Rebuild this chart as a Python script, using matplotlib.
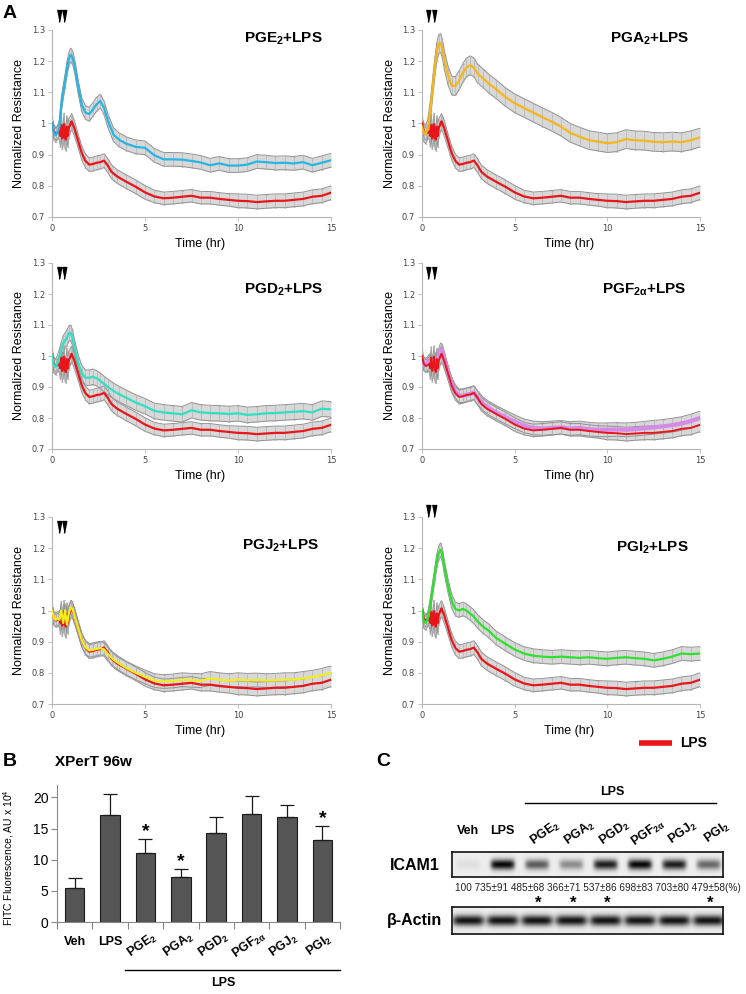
import numpy as np
import matplotlib
matplotlib.use('Agg')
import matplotlib.pyplot as plt
from matplotlib.ticker import FuncFormatter
from matplotlib.transforms import blended_transform_factory

plt.rcParams['font.family'] = ['Liberation Sans', 'DejaVu Sans']
plt.rcParams['mathtext.fontset'] = 'custom'
plt.rcParams['mathtext.rm'] = 'Liberation Sans'
plt.rcParams['mathtext.bf'] = 'Liberation Sans:bold'
plt.rcParams['mathtext.it'] = 'Liberation Sans:italic'

# ---------------- data: panel A (normalized resistance) ----------------
lps_t = [0, 0.1, 0.2, 0.3, 0.4, 0.45, 0.5, 0.55, 0.6, 0.65, 0.7, 0.75, 0.8, 0.85, 0.9,
         1.0, 1.05, 1.1, 1.2, 1.4, 1.6, 1.8, 2.0, 2.2, 2.4, 2.6, 2.8, 3.0, 3.2, 3.5,
         4.0, 4.5, 5.0, 5.5, 6.0, 6.5, 7.0, 7.5, 8.0, 8.5, 9.0, 9.5, 10.0, 10.5, 11.0,
         11.5, 12.0, 12.5, 13.0, 13.5, 14.0, 14.5, 15.0]
lps_v = [1.0, 0.975, 0.968, 0.97, 0.975, 0.96, 0.995, 0.952, 0.965, 0.998, 0.955, 0.948, 0.99, 0.96, 0.985,
         1.0, 1.007, 1.0, 0.985, 0.945, 0.905, 0.88, 0.868, 0.87, 0.874, 0.876, 0.881, 0.865, 0.845, 0.83,
         0.813, 0.797, 0.779, 0.766, 0.76, 0.762, 0.765, 0.768, 0.762, 0.762, 0.758, 0.755, 0.752, 0.751, 0.748,
         0.75, 0.752, 0.752, 0.755, 0.758, 0.765, 0.768, 0.778]
lps_e = [0.02, 0.02, 0.02, 0.02, 0.025, 0.035, 0.035, 0.035, 0.035, 0.035, 0.035, 0.035, 0.035, 0.035, 0.03,
         0.025, 0.025, 0.025, 0.025, 0.022, 0.022, 0.022, 0.022, 0.022, 0.022, 0.022, 0.022, 0.022, 0.022, 0.022,
         0.022, 0.022, 0.022, 0.02, 0.02, 0.02, 0.02, 0.02, 0.02, 0.02, 0.02, 0.02, 0.022, 0.022, 0.022,
         0.022, 0.022, 0.022, 0.022, 0.022, 0.022, 0.022, 0.022]

trt_t = [0, 0.1, 0.2, 0.3, 0.4, 0.5, 0.6, 0.7, 0.8, 0.9, 1.0, 1.1, 1.2, 1.4, 1.6, 1.8, 2.0, 2.2,
         2.4, 2.6, 2.8, 3.0, 3.3, 3.6, 4.0, 4.5, 5.0, 5.5, 6.0, 6.5, 7.0, 7.5, 8.0, 8.5, 9.0, 9.5,
         10.0, 10.5, 11.0, 11.5, 12.0, 12.5, 13.0, 13.5, 14.0, 14.5, 15.0]
pge2 = [1.0, 0.97, 0.962, 0.972, 0.99, 1.06, 1.1, 1.135, 1.175, 1.205, 1.22, 1.212, 1.19, 1.12, 1.06, 1.035, 1.03, 1.045,
        1.062, 1.072, 1.05, 1.01, 0.965, 0.948, 0.935, 0.925, 0.922, 0.898, 0.885, 0.885, 0.884, 0.88, 0.875, 0.866, 0.872, 0.865,
        0.865, 0.868, 0.878, 0.876, 0.873, 0.874, 0.872, 0.876, 0.866, 0.874, 0.882]
pga2 = [0.99, 0.972, 0.965, 0.98, 1.02, 1.07, 1.13, 1.185, 1.23, 1.255, 1.258, 1.24, 1.205, 1.155, 1.122, 1.12, 1.138, 1.162,
        1.18, 1.187, 1.18, 1.16, 1.145, 1.128, 1.11, 1.085, 1.065, 1.05, 1.035, 1.02, 1.006, 0.99, 0.97, 0.958, 0.947, 0.942,
        0.937, 0.94, 0.95, 0.946, 0.945, 0.941, 0.94, 0.942, 0.94, 0.946, 0.955]
pgd2 = [1.0, 0.97, 0.965, 0.978, 0.998, 1.02, 1.04, 1.05, 1.058, 1.072, 1.075, 1.06, 1.03, 0.98, 0.945, 0.93, 0.93, 0.933,
        0.928, 0.92, 0.91, 0.9, 0.888, 0.877, 0.865, 0.85, 0.838, 0.823, 0.818, 0.815, 0.812, 0.825, 0.818, 0.816, 0.815, 0.813,
        0.815, 0.81, 0.812, 0.815, 0.816, 0.818, 0.82, 0.822, 0.818, 0.83, 0.828]
pgf2a = [0.99, 0.975, 0.97, 0.975, 0.985, 0.98, 0.97, 0.99, 0.975, 1.0, 1.02, 1.015, 0.99, 0.95, 0.91, 0.885, 0.872, 0.872,
         0.875, 0.878, 0.882, 0.865, 0.845, 0.832, 0.818, 0.803, 0.788, 0.775, 0.768, 0.766, 0.768, 0.77, 0.766, 0.768, 0.764, 0.762,
         0.762, 0.763, 0.762, 0.764, 0.767, 0.77, 0.773, 0.777, 0.782, 0.79, 0.8]
pgj2 = [1.0, 0.975, 0.97, 0.975, 0.97, 1.0, 0.96, 1.0, 0.955, 0.99, 1.01, 1.005, 0.985, 0.945, 0.905, 0.882, 0.872, 0.874,
        0.877, 0.879, 0.875, 0.86, 0.843, 0.83, 0.815, 0.8, 0.787, 0.775, 0.772, 0.774, 0.778, 0.776, 0.775, 0.782, 0.778, 0.775,
        0.778, 0.776, 0.777, 0.775, 0.776, 0.778, 0.778, 0.782, 0.786, 0.792, 0.8]
pgi2 = [1.0, 0.965, 0.96, 0.972, 1.0, 1.04, 1.08, 1.12, 1.16, 1.185, 1.195, 1.178, 1.14, 1.08, 1.03, 1.005, 1.0, 1.005,
        1.0, 0.99, 0.98, 0.965, 0.948, 0.935, 0.912, 0.893, 0.875, 0.862, 0.855, 0.852, 0.85, 0.852, 0.85, 0.848, 0.85, 0.847,
        0.845, 0.848, 0.85, 0.847, 0.845, 0.84, 0.845, 0.852, 0.862, 0.86, 0.862]

treat_vals = [pge2, pga2, pgd2, pgf2a, pgj2, pgi2]
treat_err = [0.022, 0.03, 0.025, 0.022, 0.022, 0.022]
treat_colors = ['#27b5e5', '#f5b619', '#2fe0c3', '#d58ae8', '#f2ee1c', '#2ee02e']
treat_titles = ['PGE$_\\mathbf{2}$+LPS', 'PGA$_\\mathbf{2}$+LPS', 'PGD$_\\mathbf{2}$+LPS',
                'PGF$_\\mathbf{2\\alpha}$+LPS', 'PGJ$_\\mathbf{2}$+LPS', 'PGI$_\\mathbf{2}$+LPS']
arrow_t = [0.35, 0.65]
lps_color = '#e8161b'

# ---------------- data: panel B (XPerT) ----------------
categories = ['Veh', 'LPS', 'PGE$_\\mathbf{2}$', 'PGA$_\\mathbf{2}$', 'PGD$_\\mathbf{2}$',
              'PGF$_\\mathbf{2\\alpha}$', 'PGJ$_\\mathbf{2}$', 'PGI$_\\mathbf{2}$']
bar_vals = [5.5, 17.2, 11.1, 7.3, 14.3, 17.4, 16.9, 13.1]
bar_errs = [1.5, 3.3, 2.3, 1.2, 2.6, 2.8, 1.9, 2.3]
bar_sig = [False, False, True, True, False, False, False, True]

# ---------------- data: panel C (western blot) ----------------
icam_pct = [100, 735, 485, 366, 537, 698, 703, 479]
icam_sem = [None, 91, 68, 71, 86, 83, 80, 58]
icam_band = [0.06, 0.95, 0.6, 0.4, 0.85, 0.95, 0.85, 0.55]
actin_band = [0.9, 0.9, 0.9, 0.9, 0.9, 0.9, 0.9, 0.9]
blot_sig = [False, False, True, True, True, False, False, True]

W, H = 746, 994
fig = plt.figure(figsize=(W / 100, H / 100), dpi=100)


def box(l, t, r, b):
    return [l / W, 1 - b / H, (r - l) / W, (b - t) / H]


def trace(ax, t, v, e, color, lw, z):
    t = np.asarray(t)
    v = np.asarray(v)
    e = np.broadcast_to(np.asarray(e, float), v.shape)
    ax.fill_between(t, v - e, v + e, color='#d8d8d8', lw=0, zorder=1)
    ax.plot(t, v - e, color='#909090', lw=0.7, zorder=2)
    ax.plot(t, v + e, color='#909090', lw=0.7, zorder=2)
    ax.errorbar(t, v, yerr=e, fmt='none', ecolor='#b0b0b0', elinewidth=0.45,
                capsize=1.0, capthick=0.45, zorder=2)
    ax.plot(t, v, color=color, lw=lw, zorder=z)


# panel A layout (pixels)
pos = [(52, 30, 331, 217), (422, 30, 700, 217), (52, 263, 331, 449),
       (422, 263, 700, 449), (52, 517, 331, 704), (422, 517, 700, 704)]
title_xy = [(0.83, 0.952), (0.82, 0.952), (0.83, 0.855), (0.80, 0.855), (0.82, 0.845), (0.83, 0.834)]
arrow_y = [1.348, 1.348, 1.27, 1.27, 1.27, 1.322]
arrow_marker = [(-0.45, 1.0), (0.45, 1.0), (0.0, -1.4)]

for k in range(6):
    ax = fig.add_axes(box(*pos[k]))
    if k == 3:
        trace(ax, trt_t, treat_vals[k], treat_err[k], treat_colors[k], 3.0, 3)
        trace(ax, lps_t, lps_v, lps_e, lps_color, 1.4, 4)
    else:
        trace(ax, lps_t, lps_v, lps_e, lps_color, 1.6, 3)
        trace(ax, trt_t, treat_vals[k], treat_err[k], treat_colors[k], 1.6, 4)
    ax.set_xlim(0, 15)
    ax.set_ylim(0.7, 1.3)
    ax.set_xticks([0, 5, 10, 15])
    ax.set_yticks([0.7, 0.8, 0.9, 1.0, 1.1, 1.2, 1.3])
    ax.yaxis.set_major_formatter(FuncFormatter(lambda y, p: '%g' % round(y, 1)))
    for s in ['top', 'right']:
        ax.spines[s].set_visible(False)
    for s in ['left', 'bottom']:
        ax.spines[s].set_color('#b5b5b5')
        ax.spines[s].set_linewidth(0.8)
    ax.tick_params(labelsize=6, labelcolor='#444444', color='#b5b5b5', length=3, width=0.6,
                   labelfontfamily='DejaVu Sans', pad=2)
    ax.set_ylabel('Normalized Resistance', fontsize=9)
    ax.set_xlabel('Time (hr)', fontsize=9)
    ax.yaxis.set_label_coords(-0.097 if k % 2 == 0 else -0.094, 0.5)
    ax.xaxis.set_label_coords(0.53, -0.112)
    ax.text(title_xy[k][0], title_xy[k][1], treat_titles[k], transform=ax.transAxes,
            ha='center', va='center', fontsize=11, fontweight='bold')
    ax.plot(arrow_t, [arrow_y[k]] * 2, ls='none', marker=arrow_marker, ms=10,
            color='black', clip_on=False, zorder=6)

# ---------------- panel B ----------------
axb = fig.add_axes(box(57, 785, 340, 922))
xb = np.arange(len(bar_vals))
axb.bar(xb, bar_vals, width=0.55, color='#555555', edgecolor='#1a1a1a', lw=0.8, zorder=2)
axb.errorbar(xb, bar_vals, yerr=[np.zeros(len(bar_errs)), bar_errs], fmt='none',
             ecolor='#1a1a1a', elinewidth=0.9, capsize=5, capthick=0.9, zorder=3)
for i, sig in enumerate(bar_sig):
    if sig:
        axb.text(i, bar_vals[i] + bar_errs[i] + 1.2, '*', ha='center', va='center',
                 fontsize=14, fontweight='bold')
axb.set_xlim(-0.5, 7.5)
axb.set_ylim(0, 22)
axb.set_yticks([0, 5, 10, 15, 20])
axb.set_xticks(np.arange(-0.5, 8, 1))
axb.set_xticklabels([])
for s in ['top', 'right']:
    axb.spines[s].set_visible(False)
for s in ['left', 'bottom']:
    axb.spines[s].set_color('#888888')
axb.tick_params(axis='y', labelsize=10, color='#888888', length=4, pad=2)
axb.tick_params(axis='x', color='#888888', length=5)
axb.set_ylabel('FITC Fluorescence, AU x 10$^4$', fontsize=7.5)
axb.yaxis.set_label_coords(-0.145, 0.47)
trb = blended_transform_factory(axb.transData, axb.transAxes)
for i, lab in enumerate(categories):
    if i < 2:
        axb.text(i, -0.148, lab, transform=trb, ha='center', va='center', fontsize=9, fontweight='bold')
    else:
        axb.text(i - 0.08, -0.17, lab, transform=trb, ha='center', va='center', fontsize=9,
                 fontweight='bold', rotation=35)

# ---------------- panel C blots ----------------
lane_px = [468 + 34.3 * i for i in range(8)]
xlo, xhi = (452 - 468) / 34.3, (723 - 468) / 34.3


def blot(rect, strengths, halfw, sy):
    ax = fig.add_axes(box(*rect))
    xs = np.linspace(xlo, xhi, 320)
    ys = np.linspace(-1, 1, 40)
    X, Y = np.meshgrid(xs, ys)
    dark = np.zeros_like(X)
    for i, s in enumerate(strengths):
        dark += s * np.exp(-((X - i) / halfw) ** 6) * np.exp(-(Y / sy) ** 2)
    img = np.clip(0.93 - 0.95 * dark, 0, 1)
    ax.imshow(img, cmap='gray', vmin=0, vmax=1, aspect='auto', extent=[xlo, xhi, -1, 1],
              interpolation='bilinear')
    ax.set_xticks([])
    ax.set_yticks([])
    for s in ax.spines.values():
        s.set_linewidth(1.2)
        s.set_color('#111111')


blot((452, 852, 723, 877), icam_band, 0.35, 0.42)
blot((452, 907, 723, 934), actin_band, 0.46, 0.4)

# ---------------- overlay: letters, legend, blot labels ----------------
ov = fig.add_axes([0, 0, 1, 1])
ov.set_xlim(0, W)
ov.set_ylim(H, 0)
ov.axis('off')

ov.text(3, 13, 'A', fontsize=14, fontweight='bold', ha='left', va='center')
ov.text(3, 761, 'B', fontsize=14, fontweight='bold', ha='left', va='center')
ov.text(376, 761, 'C', fontsize=14, fontweight='bold', ha='left', va='center')
ov.text(55, 762, 'XPerT 96w', fontsize=11, fontweight='bold', ha='left', va='center')

ov.plot([639, 672], [743, 743], color=lps_color, lw=4, solid_capstyle='butt')
ov.text(680, 743, 'LPS', fontsize=10, fontweight='bold', ha='left', va='center')

# panel B LPS bracket
ov.plot([125, 340], [970, 970], color='black', lw=1)
ov.text(223, 983, 'LPS', fontsize=9, fontweight='bold', ha='center', va='center')

# panel C labels
ov.plot([525, 716], [803, 803], color='black', lw=1)
ov.text(612, 792, 'LPS', fontsize=9, fontweight='bold', ha='center', va='center')
for i, lab in enumerate(categories):
    if i < 2:
        ov.text(lane_px[i], 831, lab, fontsize=9, fontweight='bold', ha='center', va='center')
    else:
        ov.text(lane_px[i] + 9, 833, lab, fontsize=9, fontweight='bold', ha='center',
                va='center', rotation=35)
ov.text(415, 866, 'ICAM1', fontsize=11.5, fontweight='bold', ha='center', va='center')
ov.text(415, 920, 'β-Actin', fontsize=11.5, fontweight='bold', ha='center', va='center')
parts = [str(p) if s is None else '%d±%d' % (p, s) for p, s in zip(icam_pct, icam_sem)]
ov.text(455, 888, ' '.join(parts) + '(%)', fontsize=7.2, color='#222222', ha='left', va='center')
for i, sig in enumerate(blot_sig):
    if sig:
        ov.text(lane_px[i] + 2, 903, '*', fontsize=12, fontweight='bold', ha='center', va='center')

fig.savefig('out.png', dpi=100)
